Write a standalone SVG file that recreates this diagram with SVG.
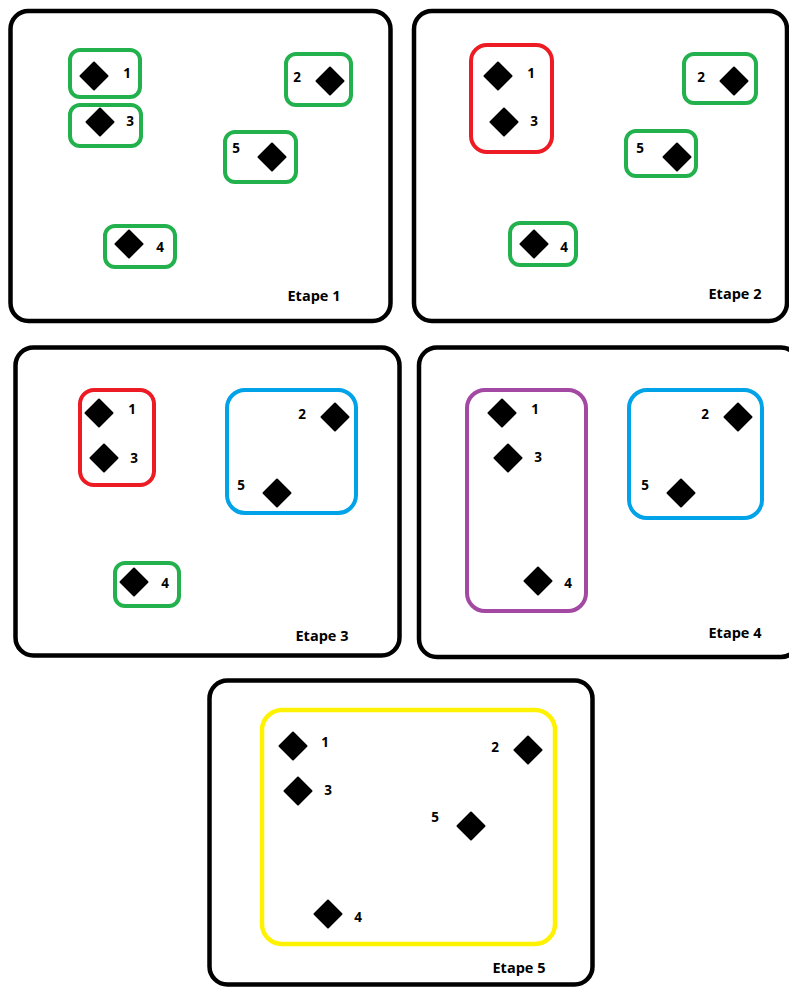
<svg xmlns="http://www.w3.org/2000/svg" xmlns:xlink="http://www.w3.org/1999/xlink" width="789" height="987" viewBox="0 0 789 987">
<style>
.panel{fill:#fff;stroke:#000;stroke-width:4.5}
.g{fill:none;stroke:#22b14c;stroke-width:4}
.r{fill:none;stroke:#ed1c24;stroke-width:4}
.b{fill:none;stroke:#00a2e8;stroke-width:4}
.p{fill:none;stroke:#a349a4;stroke-width:4}
.y{fill:none;stroke:#fff200;stroke-width:4.5}
.lbl{font-family:"Open Sans","Liberation Sans",sans-serif;font-weight:bold;font-size:13.5px;fill:#000;text-anchor:middle}
.et{font-family:"Open Sans","Liberation Sans",sans-serif;font-weight:bold;font-size:14.5px;fill:#000;text-anchor:middle}
</style>
<defs>
<path id="d" d="M0,-13.5 L13.5,0 L0,13.5 L-13.5,0 Z" fill="#000" stroke="#000" stroke-width="2" stroke-linejoin="round"/>
</defs>
<rect width="789" height="987" fill="#fff"/>

<g id="etape1">
<rect class="panel" x="10.5" y="11" width="380" height="310" rx="18"/>
<rect class="g" x="70" y="50" width="70" height="47" rx="10"/>
<rect class="g" x="70" y="105" width="71" height="41" rx="10"/>
<rect class="g" x="286" y="54" width="65" height="51" rx="10"/>
<rect class="g" x="225" y="132" width="71" height="50" rx="10"/>
<rect class="g" x="105" y="226" width="70" height="41" rx="10"/>
<use xlink:href="#d" x="94" y="76"/><text class="lbl" x="127" y="78">1</text>
<use xlink:href="#d" x="100" y="122"/><text class="lbl" x="130" y="126">3</text>
<use xlink:href="#d" x="330" y="81"/><text class="lbl" x="297" y="82">2</text>
<use xlink:href="#d" x="272" y="157"/><text class="lbl" x="236" y="153">5</text>
<use xlink:href="#d" x="129" y="244"/><text class="lbl" x="160" y="252">4</text>
<text class="et" x="314" y="301">Etape 1</text>
</g>

<g id="etape2">
<rect class="panel" x="414" y="11" width="373" height="310" rx="18"/>
<rect class="r" x="471" y="45" width="81" height="107" rx="16"/>
<rect class="g" x="684" y="54" width="72" height="49" rx="10"/>
<rect class="g" x="626" y="131" width="70" height="45" rx="10"/>
<rect class="g" x="510" y="223" width="66" height="42" rx="10"/>
<use xlink:href="#d" x="498" y="76"/><text class="lbl" x="531" y="78">1</text>
<use xlink:href="#d" x="504" y="122"/><text class="lbl" x="534" y="126">3</text>
<use xlink:href="#d" x="734" y="81"/><text class="lbl" x="701" y="82">2</text>
<use xlink:href="#d" x="677" y="157"/><text class="lbl" x="640" y="153">5</text>
<use xlink:href="#d" x="534" y="244"/><text class="lbl" x="564" y="252">4</text>
<text class="et" x="735" y="299">Etape 2</text>
</g>

<g id="etape3">
<rect class="panel" x="15.5" y="347.5" width="384" height="308" rx="18"/>
<rect class="r" x="80" y="390" width="74" height="95" rx="14"/>
<rect class="b" x="227" y="390" width="129" height="123" rx="18"/>
<rect class="g" x="115" y="563" width="64" height="43" rx="10"/>
<use xlink:href="#d" x="99" y="413"/><text class="lbl" x="132" y="414">1</text>
<use xlink:href="#d" x="104" y="458"/><text class="lbl" x="134" y="463">3</text>
<use xlink:href="#d" x="335" y="417"/><text class="lbl" x="302" y="419">2</text>
<use xlink:href="#d" x="277" y="493"/><text class="lbl" x="241" y="490">5</text>
<use xlink:href="#d" x="134" y="582"/><text class="lbl" x="165" y="588">4</text>
<text class="et" x="322" y="641">Etape 3</text>
</g>

<g id="etape4">
<rect class="panel" x="419" y="347.5" width="380" height="309.5" rx="18"/>
<rect class="p" x="467" y="390" width="119" height="221" rx="18"/>
<rect class="b" x="629" y="390" width="133" height="128" rx="18"/>
<use xlink:href="#d" x="502" y="413"/><text class="lbl" x="535" y="414">1</text>
<use xlink:href="#d" x="508" y="458"/><text class="lbl" x="538" y="462">3</text>
<use xlink:href="#d" x="538" y="581"/><text class="lbl" x="568" y="588">4</text>
<use xlink:href="#d" x="738" y="417"/><text class="lbl" x="705" y="419">2</text>
<use xlink:href="#d" x="681" y="493"/><text class="lbl" x="645" y="490">5</text>
<text class="et" x="735" y="638">Etape 4</text>
</g>

<g id="etape5">
<rect class="panel" x="209.5" y="680.5" width="383" height="304" rx="18"/>
<rect class="y" x="262" y="710" width="293" height="234" rx="20"/>
<use xlink:href="#d" x="293" y="746"/><text class="lbl" x="325" y="747">1</text>
<use xlink:href="#d" x="298" y="791"/><text class="lbl" x="328" y="795">3</text>
<use xlink:href="#d" x="528" y="750"/><text class="lbl" x="495" y="752">2</text>
<use xlink:href="#d" x="471" y="826"/><text class="lbl" x="435" y="822">5</text>
<use xlink:href="#d" x="328" y="914"/><text class="lbl" x="358" y="922">4</text>
<text class="et" x="519" y="973">Etape 5</text>
</g>

<g id="connectors"></g>
</svg>
